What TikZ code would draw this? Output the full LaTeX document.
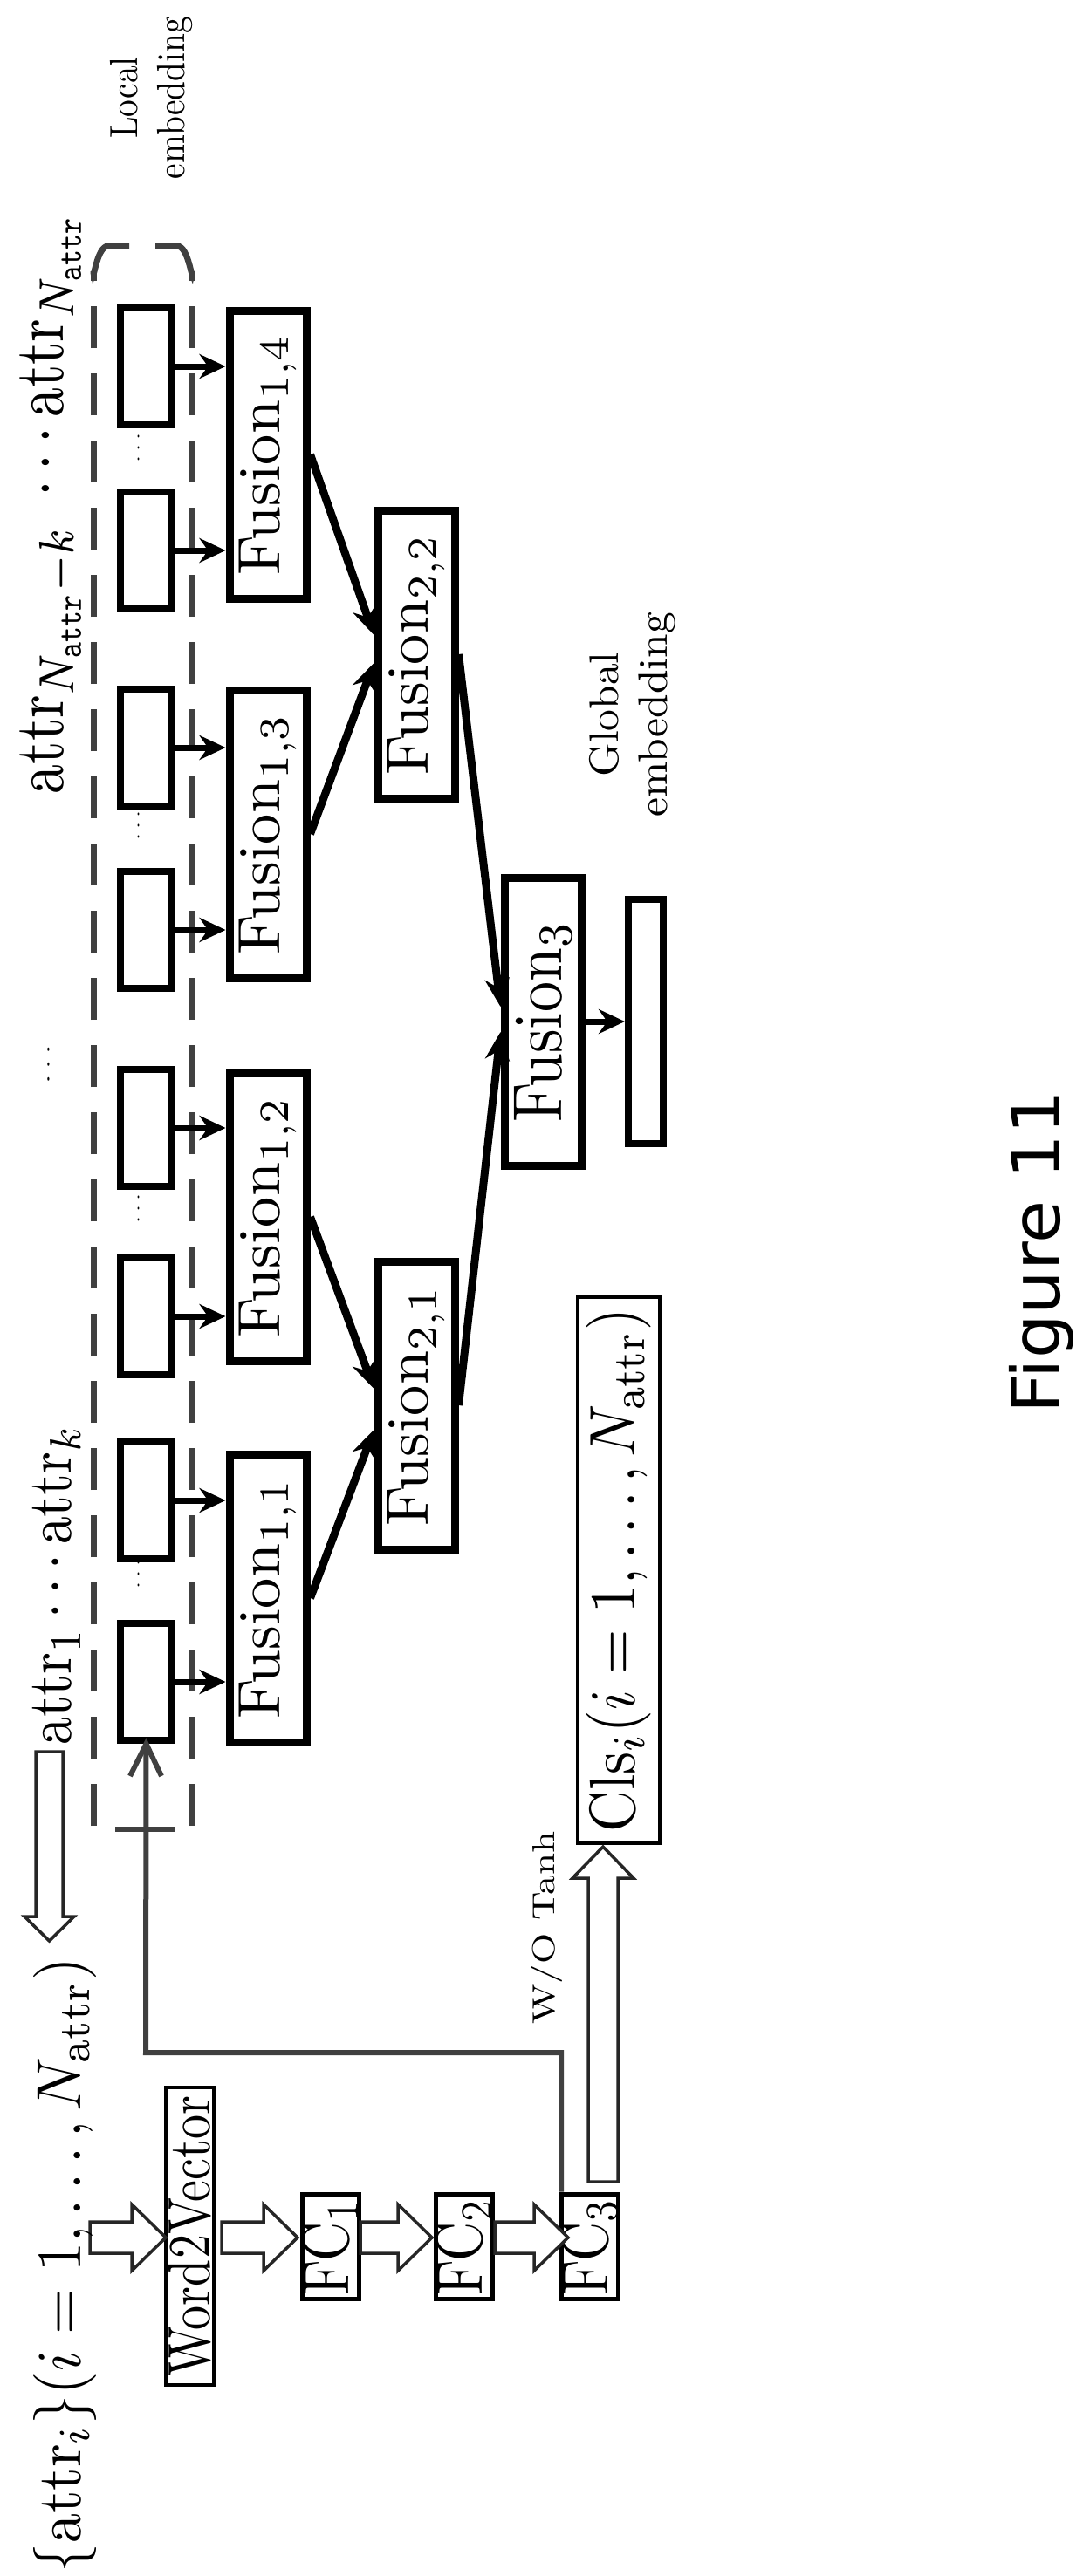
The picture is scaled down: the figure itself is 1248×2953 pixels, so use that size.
\documentclass[tikz,border=0pt]{standalone}
\usepackage{fontspec}
\usepackage{graphicx}
\newfontfamily\figfont{DejaVu Sans}
\usetikzlibrary{arrows.meta,calc}
\newcommand\rt[3]{\rotatebox{90}{\resizebox*{#1pt}{#2pt}{#3}}}
\newcommand\harrow[3]{\draw[hol] (#1,{#3-18}) -- ({#2-39},{#3-18}) -- ({#2-39},{#3-38}) -- (#2,#3) -- ({#2-39},{#3+38}) -- ({#2-39},{#3+18}) -- (#1,{#3+18}) -- cycle;}
\begin{document}
\begin{tikzpicture}[x=1pt,y=-1pt,
  sbox/.style={draw,line width=8pt,minimum width=59pt,minimum height=134pt,inner sep=0pt},
  fus/.style={draw,line width=9pt,minimum width=88pt,minimum height=330pt,inner sep=0pt},
  fc/.style={draw,line width=5pt,minimum width=65pt,minimum height=120pt,inner sep=0pt},
  txt/.style={inner sep=0pt},
  hol/.style={draw=black!85,line width=3.5pt,fill=white},
  dsh/.style={draw=black!75,line width=7pt,dash pattern=on 48pt off 29pt},
  fe/.style={line width=9pt,-{Stealth[length=32pt,width=28pt]}},
  se/.style={line width=7pt,-{Stealth[length=30pt,width=28pt]}}]
\useasboundingbox (0,0) rectangle (1248,2953);
% dashed lines with hooks
\draw[dsh] (107,2093) -- (107,311);
\draw[dsh] (220,2093) -- (220,311);
\draw[draw=black!75,line width=7pt] (107,311) to[out=-90,in=180] (124,282) -- (148,282);
\draw[draw=black!75,line width=7pt] (220,311) to[out=-90,in=0] (203,282) -- (178,282);
% small boxes
\foreach \n/\yc in {1/1928,2/1720,3/1509,4/1293,5/1066,6/857,7/631,8/420}
  \node[sbox] (b\n) at (167.5,\yc) {};
% fusion nodes
\node[fus] (f11) at (307,1832) {\rt{277}{66}{Fusion$_{1,1}$}};
\node[fus] (f12) at (307,1395) {\rt{277}{66}{Fusion$_{1,2}$}};
\node[fus] (f13) at (307,956) {\rt{277}{66}{Fusion$_{1,3}$}};
\node[fus] (f14) at (307,521) {\rt{277}{66}{Fusion$_{1,4}$}};
\node[fus] (f21) at (477,1611) {\rt{277}{66}{Fusion$_{2,1}$}};
\node[fus] (f22) at (477,750) {\rt{277}{66}{Fusion$_{2,2}$}};
\node[fus] (f3) at (622,1171) {\rt{231}{66}{Fusion$_{3}$}};
\node[draw,line width=8pt,minimum width=40pt,minimum height=280pt,inner sep=0pt] (bar) at (740,1171) {};
% box -> fusion arrows
\draw[se] (b1.east) -- (b1.east -| f11.west);
\draw[se] (b2.east) -- (b2.east -| f11.west);
\draw[se] (b3.east) -- (b3.east -| f12.west);
\draw[se] (b4.east) -- (b4.east -| f12.west);
\draw[se] (b5.east) -- (b5.east -| f13.west);
\draw[se] (b6.east) -- (b6.east -| f13.west);
\draw[se] (b7.east) -- (b7.east -| f14.west);
\draw[se] (b8.east) -- (b8.east -| f14.west);
% fusion tree
\draw[fe] (f11.east) -- ([yshift=-28pt]f21.west);
\draw[fe] (f12.east) -- ([yshift=19pt]f21.west);
\draw[fe] (f13.east) -- ([yshift=-10pt]f22.west);
\draw[fe] (f14.east) -- ([yshift=22pt]f22.west);
\draw[fe] (f21.east) -- ([yshift=-12pt]f3.west);
\draw[fe] (f22.east) -- ([yshift=17pt]f3.west);
\draw[se] (f3.east) -- (bar.west);
% cdots between boxes
\foreach \yc in {1804,1385,946,513} \node[txt] at (159,\yc) {\rt{34}{8}{$\cdots$}};
% lower chain
\node[draw,line width=4.5pt,minimum width=55pt,minimum height=341pt,inner sep=0pt] (w2v) at (217.5,2563.5) {\rt{321}{49}{Word2Vector}};
\node[fc] (fc1) at (378.5,2575) {\rt{112}{64}{FC$_1$}};
\node[fc] (fc2) at (532,2575) {\rt{112}{64}{FC$_2$}};
\node[fc] (fc3) at (675.5,2575) {\rt{112}{64}{FC$_3$}};
\node[draw,line width=4.5pt,minimum width=94pt,minimum height=626pt,inner sep=0pt] (cls) at (709,1800) {\rt{600}{74}{$\mathrm{Cls}_i(i=1,\ldots,N_{\mathrm{attr}})$}};
\harrow{103}{190}{2565}
\harrow{254}{341}{2565}
\harrow{413}{495}{2565}
\harrow{567}{651}{2565}
% up arrow FC3 -> Cls
\draw[hol] (674,2501) -- (674,2153) -- (656,2153) -- (691,2117) -- (726,2153) -- (708,2153) -- (708,2501) -- cycle;
% down arrow at left
\draw[hol] (41,2008) -- (41,2197) -- (28,2197) -- (56.5,2225) -- (85,2197) -- (72,2197) -- (72,2008) -- cycle;
% loop line
\coordinate (lp1) at (643,2353);
\coordinate (lp2) at (167,2353);
\draw[draw=black!75,line width=6pt] (fc3.north west -| lp1) -- (lp1) -- (lp2) -- (b1.south);
\draw[draw=black!75,line width=6pt] (149,2036) -- (b1.south) -- (185,2036);
\draw[draw=black!75,line width=6pt] (132,2097) -- (200,2097);
% texts
\node[txt] at (626,2210) {\rt{221}{36}{W/O Tanh}};
\node[txt] at (74,2597) {\rt{705}{72}{$\{\mathrm{attr}_i\}(i=1,\ldots,N_{\mathrm{attr}})$}};
\node[txt] at (65,1817) {\rt{367}{55}{$\mathrm{attr}_1\cdots\mathrm{attr}_k$}};
\node[txt] at (56,1220) {\rt{44}{10}{$\cdots$}};
\node[txt] at (58,577) {\rt{666}{70}{$\mathrm{attr}_{N_{\mathtt{attr}}-k}\ \cdots\mathrm{attr}_{N_{\mathtt{attr}}}$}};
\node[txt] at (174,112) {\rt{186}{108}{\begin{tabular}{@{}c@{}}Local\\embedding\end{tabular}}};
\node[txt] at (725,819) {\rt{234}{113}{\begin{tabular}{@{}c@{}}Global\\embedding\end{tabular}}};
\node[txt] at (1193,1435) {\rt{370}{74}{\figfont Figure 11}};
\end{tikzpicture}
\end{document}
